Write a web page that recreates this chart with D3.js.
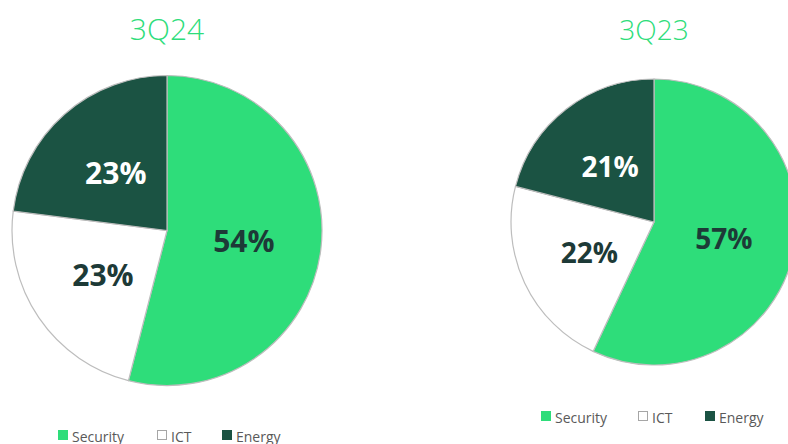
<!DOCTYPE html>
<html><head><meta charset="utf-8">
<script src="https://cdn.jsdelivr.net/npm/d3@7"></script>
<style>body{margin:0;background:#fff}svg{display:block}</style>
</head><body>
<svg id="chart" width="788" height="444"></svg>
<script>
const categories = ["Security", "ICT", "Energy"];
const values3Q24 = [54, 23, 23];
const values3Q23 = [57, 22, 21];
const titles = ["3Q24", "3Q23"];

const colors = {Security: "#2EDD7A", ICT: "#FFFFFF", Energy: "#1B5343"};
const labelColors = {Security: "#1D3A37", ICT: "#1D3A37", Energy: "#FFFFFF"};

const svg = d3.select("#chart");
const font = "'Open Sans', 'Noto Sans', sans-serif";

const panels = [
  {title: titles[0], values: values3Q24, cx: 167, cy: 230.5, r: 155, titleY: 40, titleSize: 30, labelSize: 30,
   legendY: 436, legendX: [58, 157, 222]},
  {title: titles[1], values: values3Q23, cx: 654, cy: 222, r: 143, titleY: 40, titleSize: 28, labelSize: 28,
   legendY: 417, legendX: [541, 638, 705]}
];

const pie = d3.pie().sort(null).value(d => d.v);

panels.forEach(p => {
  const data = categories.map((c, i) => ({c, v: p.values[i]}));
  const arc = d3.arc().innerRadius(0).outerRadius(p.r);
  const labelArc = d3.arc().innerRadius(p.r * 0.5).outerRadius(p.r * 0.5);
  const g = svg.append("g").attr("transform", `translate(${p.cx},${p.cy})`);
  const arcs = pie(data);
  g.selectAll("path").data(arcs).join("path")
    .attr("d", arc)
    .attr("fill", d => colors[d.data.c])
    .attr("stroke", "#BDBDBD")
    .attr("stroke-width", 1.2);
  g.selectAll("text").data(arcs).join("text")
    .attr("transform", d => `translate(${labelArc.centroid(d)})`)
    .attr("text-anchor", "middle")
    .attr("dominant-baseline", "central")
    .attr("font-family", font)
    .attr("font-weight", 700)
    .attr("font-size", p.labelSize)
    .attr("fill", d => labelColors[d.data.c])
    .text(d => d.data.v + "%");

  svg.append("text")
    .attr("x", p.cx).attr("y", p.titleY)
    .attr("text-anchor", "middle")
    .attr("font-family", font)
    .attr("font-weight", 300)
    .attr("font-size", p.titleSize)
    .attr("fill", "#2EDD7A")
    .text(p.title);

  const lg = svg.append("g");
  categories.forEach((c, i) => {
    const x = p.legendX[i];
    lg.append("rect")
      .attr("x", x + 0.5).attr("y", p.legendY - 5.5)
      .attr("width", 9).attr("height", 9)
      .attr("fill", colors[c])
      .attr("stroke", c === "ICT" ? "#A6A6A6" : colors[c])
      .attr("stroke-width", 1);
    lg.append("text")
      .attr("x", x + 14).attr("y", p.legendY)
      .attr("dominant-baseline", "central")
      .attr("font-family", font)
      .attr("font-size", 14)
      .attr("fill", "#595959")
      .text(c);
  });
});
</script>
</body></html>
